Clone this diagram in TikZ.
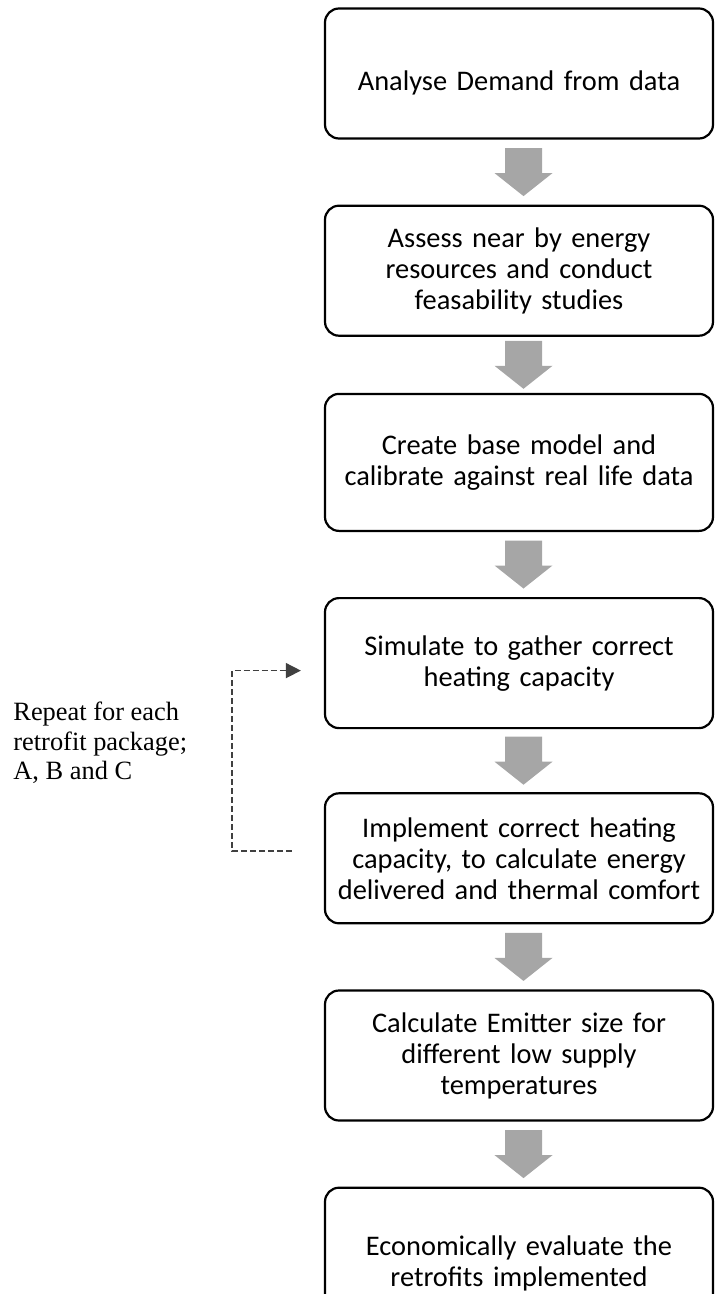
\documentclass[tikz,border=0pt]{standalone}
\usepackage{fontspec}
\setmainfont{Liberation Serif}
\newfontfamily\calibrifont{Carlito}
\usepackage{xcolor}
\usepackage{tikz}
\usetikzlibrary{arrows.meta, positioning}
\definecolor{arrowgray}{RGB}{166,166,166}
\definecolor{loopgray}{RGB}{64,64,64}

\begin{document}
\begin{tikzpicture}[node distance=32.5pt,
    b/.style={draw, line width=1.1pt, rounded corners=7pt, minimum width=194pt, minimum height=65pt, text width=184pt, align=center, font=\calibrifont\fontsize{14.2}{15.5}\selectfont},
    blk/.pic={\fill[arrowgray] (-9.25pt,12pt) -- (9.25pt,12pt) -- (9.25pt,-0.5pt) -- (14.5pt,-0.5pt) -- (0pt,-12pt) -- (-14.5pt,-0.5pt) -- (-9.25pt,-0.5pt) -- cycle;},
    rep/.style={draw=loopgray, line width=0.75pt, dash pattern=on 3pt off 1.5pt, -{Triangle[length=7.5pt, width=7.5pt]}},
    lbl/.style={align=left, inner sep=0pt, font=\fontsize{13.2}{14.75}\selectfont}]
    \useasboundingbox (-259.5pt,36.75pt) rectangle (98pt,-610.25pt);
    \clip (-259.5pt,36.75pt) rectangle (98pt,-610.25pt);
    \node[b, text height=19pt] (dem) at (0,0) {Analyse Demand from data};
    \node[b, below=of dem] (res) {Assess near by energy\\resources and conduct\\feasability studies};
    \node[b, below=28pt of res, minimum height=68.5pt] (base) {Create base model and\\calibrate against real life data};
    \node[b, below=of base] (sim) {Simulate to gather correct\\heating capacity};
    \node[b, below=31.5pt of sim] (impl) {Implement correct heating\\capacity, to calculate energy\\delivered and thermal comfort};
    \node[b, below=of impl] (emit) {Calculate Emitter size for\\different low supply\\temperatures};
    \node[b, below=of emit, minimum height=76pt] (eco) {Economically evaluate the\\retrofits implemented};
    % block arrows between the steps
    \path (dem.south) -- pic[xshift=2.25pt] {blk} (res.north);
    \path (res.south) -- pic[xshift=2.25pt] {blk} (base.north);
    \path (base.south) -- pic[xshift=2.25pt] {blk} (sim.north);
    \path (sim.south) -- pic[xshift=2.25pt] {blk} (impl.north);
    \path (impl.south) -- pic[xshift=2.25pt] {blk} (emit.north);
    \path (emit.south) -- pic[xshift=2.25pt] {blk} (eco.north);
    % repeat loop
    \draw[rep] ([xshift=-16pt, yshift=3.75pt]impl.west) -- ++(-30pt,0) |- ([xshift=-11.5pt, yshift=-3.75pt]sim.west);
    \node[lbl, anchor=north west] (note) at (-253pt,-314.25pt) {Repeat for each\\retrofit package;\\A, B and C};
\end{tikzpicture}
\end{document}
